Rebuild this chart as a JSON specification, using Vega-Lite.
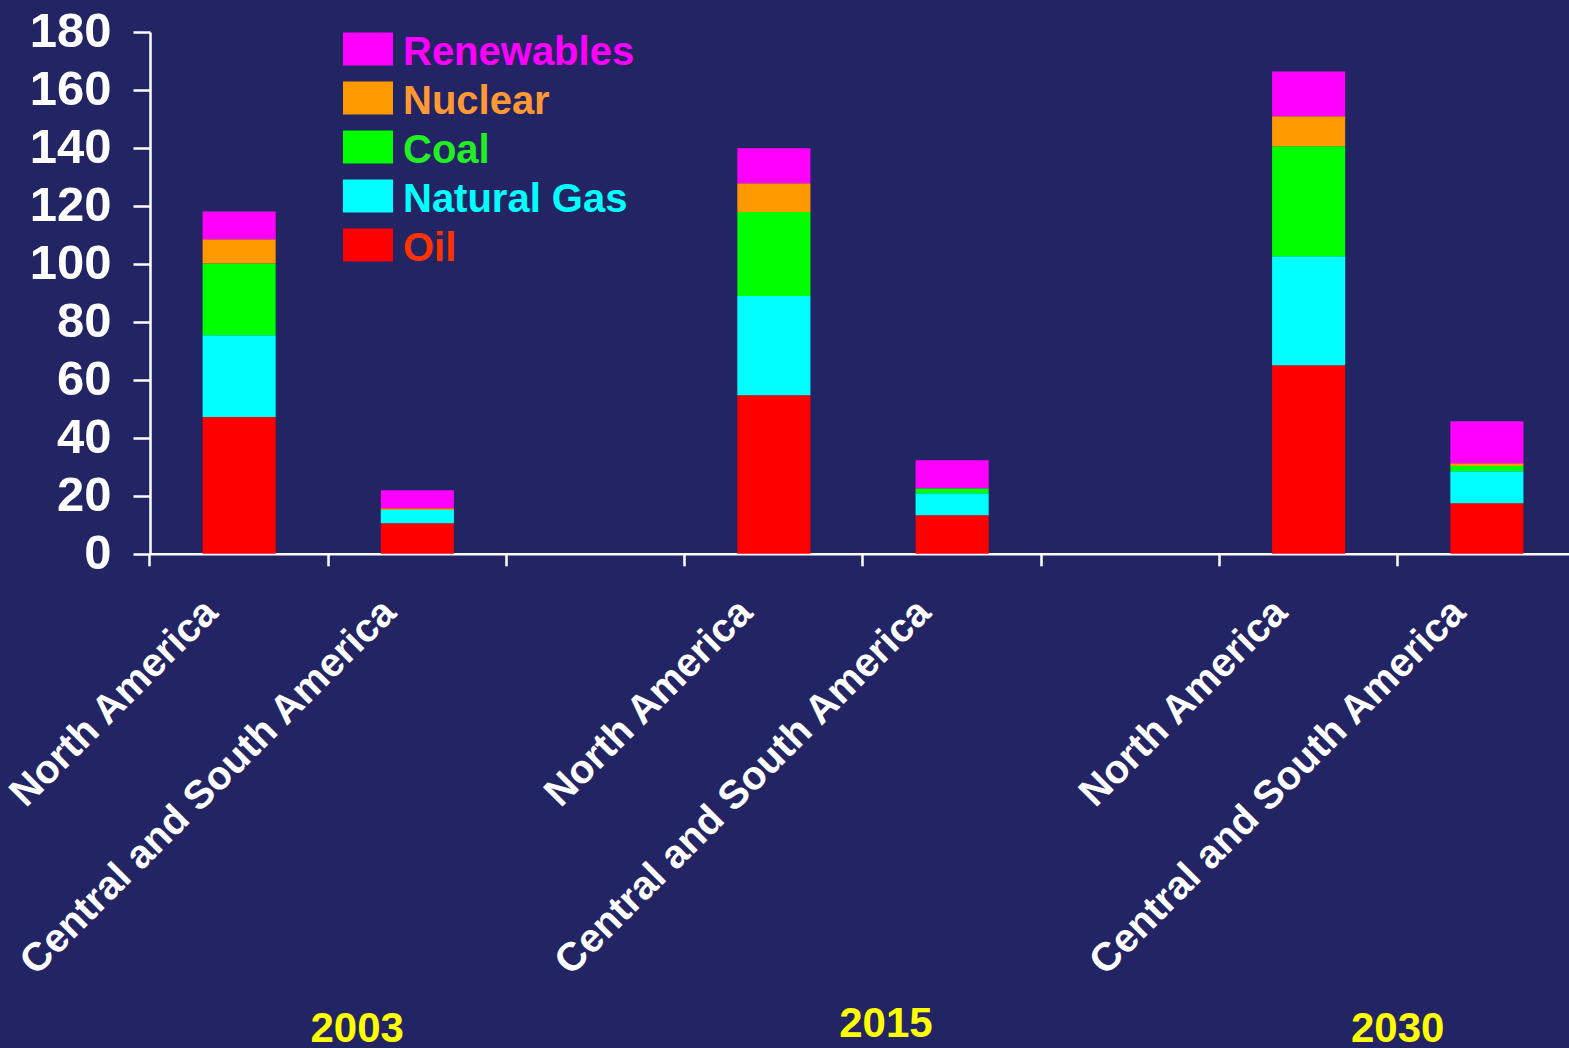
{
  "$schema": "https://vega.github.io/schema/vega-lite/v6.json",
  "autosize": {"type": "none"},
  "width": 1426,
  "height": 521.8,
  "padding": {"left": 150, "top": 32, "right": 0, "bottom": 495},
  "background": "#232463",
  "config": {
    "view": {"stroke": null},
    "font": "Liberation Sans"
  },
  "datasets": {
    "energy": [
      {"cat": "NA2003", "source": "Oil", "k": 1, "value": 47.2},
      {"cat": "NA2003", "source": "Natural Gas", "k": 2, "value": 28.2},
      {"cat": "NA2003", "source": "Coal", "k": 3, "value": 24.7},
      {"cat": "NA2003", "source": "Nuclear", "k": 4, "value": 8.4},
      {"cat": "NA2003", "source": "Renewables", "k": 5, "value": 9.6},
      {"cat": "CSA2003", "source": "Oil", "k": 1, "value": 10.5},
      {"cat": "CSA2003", "source": "Natural Gas", "k": 2, "value": 4.6},
      {"cat": "CSA2003", "source": "Nuclear", "k": 4, "value": 0.6},
      {"cat": "CSA2003", "source": "Renewables", "k": 5, "value": 6.2},
      {"cat": "NA2015", "source": "Oil", "k": 1, "value": 54.7},
      {"cat": "NA2015", "source": "Natural Gas", "k": 2, "value": 34.2},
      {"cat": "NA2015", "source": "Coal", "k": 3, "value": 29.0},
      {"cat": "NA2015", "source": "Nuclear", "k": 4, "value": 9.9},
      {"cat": "NA2015", "source": "Renewables", "k": 5, "value": 12.1},
      {"cat": "CSA2015", "source": "Oil", "k": 1, "value": 13.3},
      {"cat": "CSA2015", "source": "Natural Gas", "k": 2, "value": 7.6},
      {"cat": "CSA2015", "source": "Coal", "k": 3, "value": 1.7},
      {"cat": "CSA2015", "source": "Renewables", "k": 5, "value": 9.7},
      {"cat": "NA2030", "source": "Oil", "k": 1, "value": 65.0},
      {"cat": "NA2030", "source": "Natural Gas", "k": 2, "value": 37.6},
      {"cat": "NA2030", "source": "Coal", "k": 3, "value": 38.0},
      {"cat": "NA2030", "source": "Nuclear", "k": 4, "value": 10.3},
      {"cat": "NA2030", "source": "Renewables", "k": 5, "value": 15.5},
      {"cat": "CSA2030", "source": "Oil", "k": 1, "value": 17.4},
      {"cat": "CSA2030", "source": "Natural Gas", "k": 2, "value": 11.1},
      {"cat": "CSA2030", "source": "Coal", "k": 3, "value": 1.8},
      {"cat": "CSA2030", "source": "Nuclear", "k": 4, "value": 0.9},
      {"cat": "CSA2030", "source": "Renewables", "k": 5, "value": 14.5}
    ],
    "years": [
      {"cat": "CSA2003", "year": "2003"},
      {"cat": "CSA2015", "year": "2015"},
      {"cat": "CSA2030", "year": "2030"}
    ]
  },
  "layer": [
    {
      "data": {"name": "energy"},
      "mark": {"type": "bar", "strokeWidth": 0},
      "encoding": {
        "x": {
          "field": "cat",
          "type": "nominal",
          "sort": null,
          "scale": {
            "domain": ["NA2003", "CSA2003", "gap1", "NA2015", "CSA2015", "gap2", "NA2030", "CSA2030"],
            "paddingInner": 0.59,
            "paddingOuter": 0.295
          },
          "axis": {
            "title": null,
            "bandPosition": -0.72,
            "labelExpr": "indexof(datum.value,'CSA')==0 ? 'Central and South America' : (indexof(datum.value,'NA')==0 ? 'North America' : '')",
            "labelAngle": -45,
            "labelAlign": "right",
            "labelBaseline": "middle",
            "labelFontSize": 40,
            "labelFontWeight": "bold",
            "labelColor": "#ffffff",
            "labelPadding": 40,
            "labelOffset": -28,
            "labelLimit": 0,
            "domainColor": "#ffffff",
            "domainWidth": 2.5,
            "tickColor": "#ffffff",
            "tickWidth": 2.5,
            "tickSize": 12
          }
        },
        "y": {
          "field": "value",
          "type": "quantitative",
          "aggregate": "sum",
          "stack": "zero",
          "scale": {"domain": [0, 180], "nice": false, "zero": true},
          "axis": {
            "title": null,
            "values": [0, 20, 40, 60, 80, 100, 120, 140, 160, 180],
            "grid": false,
            "labelFontSize": 49,
            "labelFontWeight": "bold",
            "labelColor": "#ffffff",
            "labelPadding": 22,
            "domainColor": "#ffffff",
            "domainWidth": 2.5,
            "tickColor": "#ffffff",
            "tickWidth": 2.5,
            "tickSize": 17
          }
        },
        "color": {
          "field": "source",
          "type": "nominal",
          "scale": {
            "domain": ["Renewables", "Nuclear", "Coal", "Natural Gas", "Oil"],
            "range": ["#ff00ff", "#ff9900", "#00ff00", "#00ffff", "#ff0000"]
          },
          "legend": {
            "title": null,
            "orient": "none",
            "legendX": 193,
            "legendY": -8,
            "padding": 0,
            "symbolType": "M-1,-0.66H1V0.66H-1Z",
            "symbolSize": 2500,
            "symbolStrokeWidth": 0,
            "symbolOpacity": 1,
            "labelFontSize": 40,
            "labelFontWeight": "bold",
            "labelOffset": 10,
            "labelLimit": 0,
            "rowPadding": -2,
            "encode": {
              "labels": {
                "update": {
                  "dy": {"value": 4},
                  "fill": {"signal": "datum.value=='Oil' ? '#ff3300' : (datum.value=='Nuclear' ? '#ff9933' : (datum.value=='Coal' ? '#22ee22' : scale('color', datum.value)))"}
                }
              }
            }
          }
        },
        "order": {"field": "k", "type": "quantitative", "sort": "ascending"}
      }
    },
    {
      "data": {"name": "years"},
      "transform": [{"filter": "datum.year == '2003'"}],
      "mark": {"type": "text", "fontSize": 42, "fontWeight": "bold", "color": "#ffff00", "baseline": "alphabetic", "align": "center", "dx": 29},
      "encoding": {
        "x": {"field": "cat", "type": "nominal", "bandPosition": -0.72},
        "y": {"datum": -168.5},
        "text": {"field": "year"}
      }
    },
    {
      "data": {"name": "years"},
      "transform": [{"filter": "datum.year == '2015'"}],
      "mark": {"type": "text", "fontSize": 42, "fontWeight": "bold", "color": "#ffff00", "baseline": "alphabetic", "align": "center", "dx": 23},
      "encoding": {
        "x": {"field": "cat", "type": "nominal", "bandPosition": -0.72},
        "y": {"datum": -166.6},
        "text": {"field": "year"}
      }
    },
    {
      "data": {"name": "years"},
      "transform": [{"filter": "datum.year == '2030'"}],
      "mark": {"type": "text", "fontSize": 42, "fontWeight": "bold", "color": "#ffff00", "baseline": "alphabetic", "align": "center", "dx": 0},
      "encoding": {
        "x": {"field": "cat", "type": "nominal", "bandPosition": -0.72},
        "y": {"datum": -168.5},
        "text": {"field": "year"}
      }
    }
  ]
}
